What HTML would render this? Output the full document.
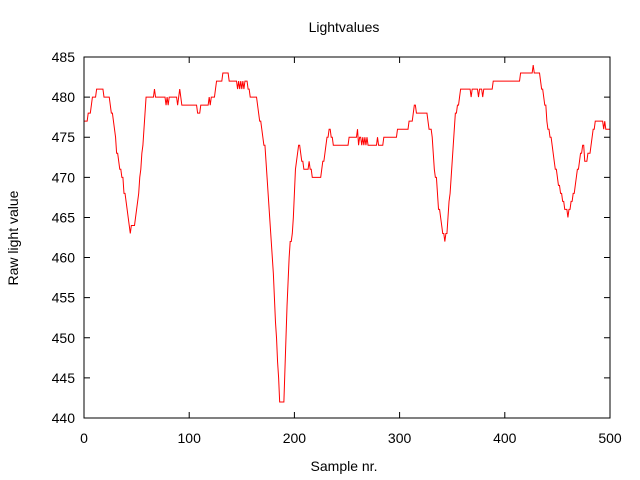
<!DOCTYPE html>
<html><head><meta charset="utf-8"><style>
html,body{margin:0;padding:0;background:#fff;}
svg{display:block;font-family:"Liberation Sans",sans-serif;}
</style></head><body>
<svg id="chart" width="640" height="480">
<rect x="0" y="0" width="640" height="480" fill="#fff"/>
<text x="344" y="32" text-anchor="middle" font-size="14">Lightvalues</text>
<text x="344" y="471" text-anchor="middle" font-size="14">Sample nr.</text>
<text transform="translate(18,238) rotate(-90)" text-anchor="middle" font-size="14">Raw light value</text>
<g id="axes"></g>
<g id="series"></g>
<rect x="84" y="57" width="526" height="361" fill="none" stroke="#000" stroke-width="1"/>
</svg>
<script>
const xTicks=[0,100,200,300,400,500];
const yTicks=[440,445,450,455,460,465,470,475,480,485];
const brkSample=[
0,4,7,8,12,19,25,26,28,29,
30,31,33,34,36,38,40,41,42,43,
44,45,49,50,51,52,53,54,55,56,
57,58,59,67,68,78,79,80,81,89,
90,91,92,93,108,111,119,120,121,125,
126,132,138,146,147,148,149,150,151,152,
153,156,158,165,166,167,169,170,171,173,
174,175,176,177,178,179,180,181,182,183,
184,185,186,191,192,193,194,195,196,198,
199,200,201,202,203,204,206,207,209,214,
215,217,226,227,229,230,231,233,235,237,
252,260,261,262,264,265,266,267,268,269,
270,279,280,285,298,309,313,314,316,327,
328,331,332,333,334,336,337,339,340,341,
343,344,346,347,348,349,350,351,352,353,
355,357,358,368,369,375,376,379,380,389,
415,427,428,434,435,437,438,440,441,443,
445,446,447,448,450,451,453,455,457,460,
461,463,465,467,468,469,471,472,474,476,
479,482,483,484,486,494,495,496];
const brkValue=[
477,478,479,480,481,480,479,478,477,476,
475,473,472,471,470,468,467,466,465,464,
463,464,465,466,467,468,470,471,473,474,
476,478,480,481,480,479,480,479,480,479,
480,481,480,479,478,479,480,479,480,481,
482,483,482,481,482,481,482,481,482,481,
482,481,480,479,478,477,476,475,474,472,
470,468,466,464,462,460,458,455,452,450,
447,445,442,446,450,454,457,460,462,463,
465,468,471,472,473,474,473,472,471,472,
471,470,471,472,473,474,475,476,475,474,
475,476,474,475,474,475,474,475,474,475,
474,475,474,475,476,477,478,479,478,477,
476,475,473,471,470,468,466,465,464,463,
462,463,465,467,468,470,472,474,476,478,
479,480,481,480,481,480,481,480,481,482,
483,484,483,482,481,480,479,477,476,475,
474,473,472,471,470,469,468,467,466,465,
466,467,468,469,470,471,472,473,474,472,
473,474,475,476,477,476,477,476];
const X0=84,X1=610,Y0=418,Y1=57;
const NS="http://www.w3.org/2000/svg";
function xs(v){return X0+(v-0)/(500-0)*(X1-X0);}
function ys(v){return Y0-(v-440)/(485-440)*(Y0-Y1);}
const axes=document.getElementById('axes');
xTicks.forEach(t=>{
  const x=xs(t);
  const l=document.createElementNS(NS,'path');
  l.setAttribute('d',`M${x},${Y0}V${Y0-6}M${x},${Y1}V${Y1+6}`);
  l.setAttribute('stroke','#000');
  
  
  axes.appendChild(l);
  const tx=document.createElementNS(NS,'text');
  tx.setAttribute('x',x);tx.setAttribute('y',Y0+25);
  tx.setAttribute('text-anchor','middle');tx.setAttribute('font-size','14');
  tx.textContent=t;
  
  
  axes.appendChild(tx);
});
yTicks.forEach(t=>{
  const y=ys(t);
  const l=document.createElementNS(NS,'path');
  l.setAttribute('d',`M${X0},${y}H${X0+6}M${X1},${y}H${X1-6}`);
  l.setAttribute('stroke','#000');
  
  
  axes.appendChild(l);
  const tx=document.createElementNS(NS,'text');
  tx.setAttribute('x',X0-9);tx.setAttribute('y',y+5);
  tx.setAttribute('text-anchor','end');tx.setAttribute('font-size','14');
  tx.textContent=t;
  
  
  axes.appendChild(tx);
});
const vals=[];let k=0;
for(let s=0;s<=500;s++){while(k+1<brkSample.length&&brkSample[k+1]<=s)k++;vals.push(brkValue[k]);}
let d='';
vals.forEach((v,i)=>{d+=(i?'L':'M')+xs(i).toFixed(2)+','+ys(v).toFixed(2);});
const p=document.createElementNS(NS,'path');
p.setAttribute('d',d);p.setAttribute('fill','none');p.setAttribute('stroke','#ff0000');p.setAttribute('stroke-width','1');


document.getElementById('series').appendChild(p);
</script>
</body></html>
